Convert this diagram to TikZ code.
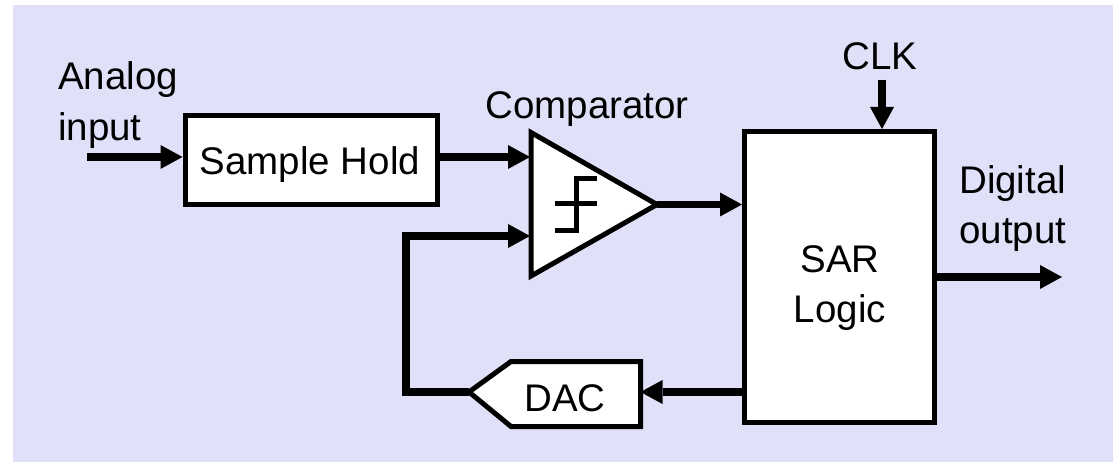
\documentclass[tikz,border=0pt]{standalone}
\usepackage{fontspec}
\setmainfont{Liberation Sans}
\usetikzlibrary{arrows.meta}
\definecolor{bgblue}{HTML}{E0E0F9}
\tikzset{
  x=1pt,y=-1pt,
  blockbox/.style={draw=black,fill=white,line width=5pt,miter limit=10},
  signal/.style={draw=black,line width=7.5pt,-{Triangle[length=22pt,width=24pt,line width=0pt]}},
  plainwire/.style={draw=black,line width=7.5pt},
  txt/.style={inner sep=0pt,font=\fontsize{38.5}{50}\selectfont,text=black},
}
\begin{document}
\begin{tikzpicture}
\useasboundingbox (0,0) rectangle (1113,462);
\fill[bgblue] (13,5) rectangle (1113,462);
% blocks
\node[blockbox,minimum width=252pt,minimum height=89pt,inner sep=0pt,anchor=center] (sh) at (311,160) {};
\node[txt] (shl) at (310,165) {Sample Hold};
\node[blockbox,minimum width=190pt,minimum height=291pt,inner sep=0pt] (sar) at (839.5,277) {};
\node[txt,align=center] (sarl) at (840,288) {SAR\\Logic};
\coordinate (ct1) at (531,132.5);
\coordinate (ct2) at (531,276);
\coordinate (ctip) at (657,204.5);
\draw[blockbox,line join=miter] (ct1) -- (ctip) -- (ct2) -- cycle;
\draw[black,line width=5pt] (555,204) -- (597,204) (597,179) -- (576,179) -- (576,231) -- (555,231);
\coordinate (d1) at (640.5,361.5);
\coordinate (d2) at (511,361.5);
\coordinate (dtip) at (469,392);
\coordinate (d3) at (511,426.5);
\coordinate (d4) at (640.5,426.5);
\draw[blockbox,line join=miter] (d1) -- (d2) -- (dtip) -- (d3) -- (d4) -- cycle;
\node[txt] (dacl) at (565,398) {DAC};
% labels
\node[txt,anchor=west] (ai) at (58,80) {Analog};
\node[txt,anchor=west] (ii) at (58,131) {input};
\node[txt] (cmp) at (587,109) {Comparator};
\node[txt] (clk) at (880,56) {CLK};
\node[txt,anchor=west] (dg) at (959,184) {Digital};
\node[txt,anchor=west] (ou) at (959,235) {output};
% connectors
\coordinate (inS) at (87,157);
\coordinate (outE) at (1062,277);
\coordinate (clkS) at (882,80);
\coordinate (fb1) at (406,392);
\coordinate (fb2) at (406,236);
\draw[signal] (inS) -- (sh.west |- inS);
\draw[signal] (sh.east |- 0,157) -- (530,157);
\draw[signal] (ctip) -- (sar.west |- ctip);
\draw[signal] (clkS) -- (clkS |- sar.north);
\draw[signal] (sar.east |- outE) -- (outE);
\draw[signal] (sar.west |- dtip) -- (d1 |- dtip);
\draw[plainwire,line join=miter] (dtip) -- (fb1) -- (fb2) -- (500,236);
\draw[signal] (fb2) -- (530,236);
\end{tikzpicture}
\end{document}
